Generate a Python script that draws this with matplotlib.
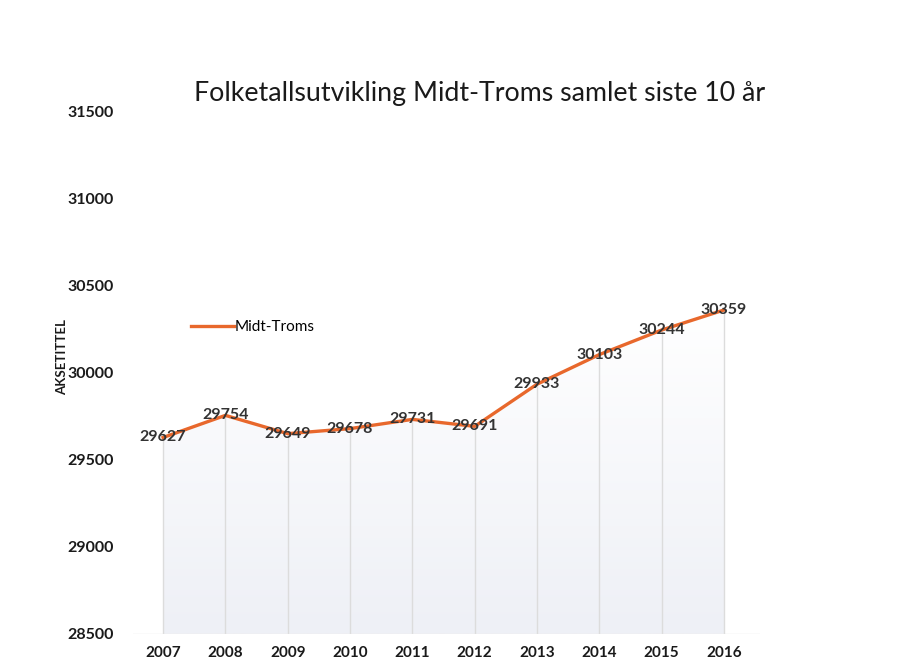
import numpy as np
import matplotlib.pyplot as plt
from matplotlib.colors import LinearSegmentedColormap
from matplotlib.patches import Polygon

years = ["2007", "2008", "2009", "2010", "2011", "2012", "2013", "2014", "2015", "2016"]
population = [29627, 29754, 29649, 29678, 29731, 29691, 29933, 30103, 30244, 30359]
series_name = "Midt-Troms"

plt.rcParams['font.family'] = ['Lato', 'DejaVu Sans']

fig = plt.figure(figsize=(9.06, 6.70), dpi=100)
ax = fig.add_axes([0.147, 0.054, 0.692, 0.78])

x = np.arange(len(years))
ymin, ymax = 28500, 31500

# gradient fill under the line
grad = np.linspace(1, 0, 256).reshape(-1, 1)
cmap = LinearSegmentedColormap.from_list("g", ["#eef0f6", "#ffffff"])
img = ax.imshow(grad, extent=[x[0], x[-1], ymin, max(population)], aspect='auto',
                cmap=cmap, origin='upper', zorder=1)
poly = Polygon(list(zip(x, population)) + [(x[-1], ymin), (x[0], ymin)],
               closed=True, facecolor='none', edgecolor='none')
ax.add_patch(poly)
img.set_clip_path(poly)

# drop lines
ax.vlines(x, ymin, population, color='#dcdcdc', lw=1, zorder=2)

ax.plot(x, population, color='#e8682c', lw=2.4, label=series_name, zorder=3)

for xi, v in zip(x, population):
    ax.text(xi, v, str(v), ha='center', va='center', fontsize=11.5,
            fontweight='bold', color='#333333', zorder=4)

ax.set_xlim(-0.48, 9.58)
ax.set_ylim(ymin, ymax)
ax.set_yticks(np.arange(28500, 31501, 500))
ax.set_xticks(x)
ax.set_xticklabels(years)
ax.tick_params(length=0, colors='#1a1a1a')
ax.tick_params(axis='y', pad=14, labelsize=11.5)
ax.tick_params(axis='x', pad=9, labelsize=11)
for lab in ax.get_xticklabels() + ax.get_yticklabels():
    lab.set_fontweight('bold')
for s in ax.spines.values():
    s.set_visible(False)
ax.axhline(ymin, color='#e6e6e6', lw=1, zorder=2)

ax.set_ylabel("AKSETITTEL", fontsize=9.5, fontweight='bold', color='#1a1a1a')
ax.yaxis.set_label_coords(-0.104, 0.53)
fig.text(0.529, 0.86, "Folketallsutvikling Midt-Troms samlet siste 10 år",
         ha='center', va='center', fontsize=19.3, color='#1a1a1a')

ax.legend(loc='center left', bbox_to_anchor=(0.07, 0.587), frameon=False,
          fontsize=11, handlelength=2.8, handletextpad=0.1)

fig.savefig("out.png", dpi=100)
